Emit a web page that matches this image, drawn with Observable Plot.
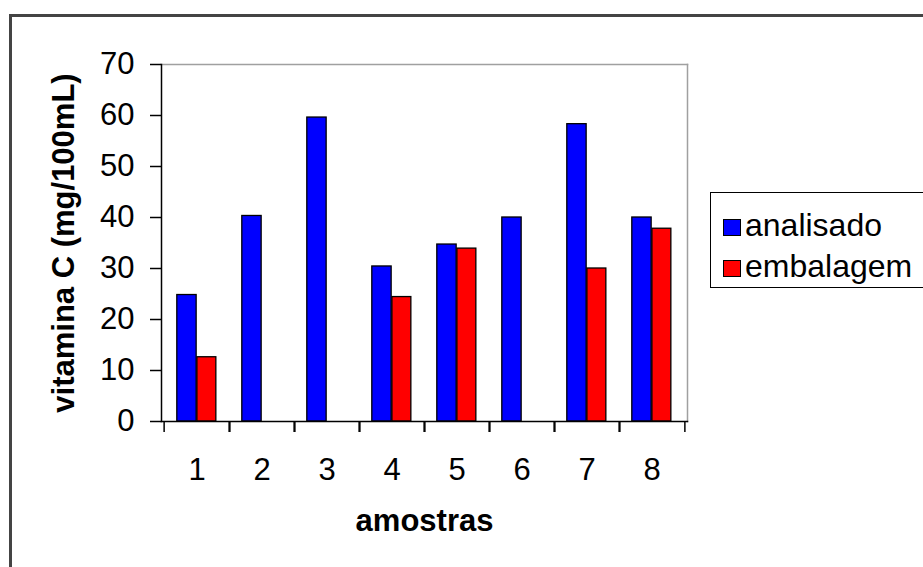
<!DOCTYPE html>
<html>
<head>
<meta charset="utf-8">
<script src="https://cdn.jsdelivr.net/npm/d3@7"></script>
<script src="https://cdn.jsdelivr.net/npm/@observablehq/plot@0.6"></script>
<style>
  html, body { margin: 0; padding: 0; background: #fff; }
  #wrap { position: relative; width: 923px; height: 567px; overflow: hidden; background: #fff;
          font-family: "Liberation Sans", Arial, sans-serif; }
  #outer { position: absolute; left: 9px; top: 14px; width: 1000px; height: 1000px;
           border: 3px solid #444; box-sizing: border-box; pointer-events: none; }
  #chart { position: absolute; left: 0; top: 0; }
  #legend { position: absolute; left: 710px; top: 192px; width: 260px; height: 96px;
            border: 1.5px solid #000; box-sizing: border-box; background: #fff; }
  .sw { position: absolute; left: 12px; width: 18px; height: 17px; border: 1px solid #000; box-sizing: border-box; }
  .lt { position: absolute; left: 34px; font-size: 32px; line-height: 32px; color: #000; white-space: nowrap; }
</style>
</head>
<body>
<div id="wrap">
  <div id="outer"></div>
  <div id="chart"></div>
  <div id="legend"></div>
</div>
<script>
// ---- data ----
const amostras = ["1", "2", "3", "4", "5", "6", "7", "8"];
const analisado = [24.8, 40.3, 59.6, 30.4, 34.7, 40.0, 58.3, 40.0];
const embalagem = [12.6, null, null, 24.4, 33.9, null, 30.0, 37.8];
const seriesNames = ["analisado", "embalagem"];
const seriesColors = ["#0000ff", "#ff0000"];
const yTicks = [0, 10, 20, 30, 40, 50, 60, 70];
const yLabel = "vitamina C (mg/100mL)";
const xLabel = "amostras";

const table = amostras.map((a, i) => ({amostra: a, analisado: analisado[i], embalagem: embalagem[i]}));

const W = 923, H = 567;
const band = (W - 161 - 236) / amostras.length;

const chart = Plot.plot({
  width: W,
  height: H,
  marginLeft: 161,
  marginRight: 236,
  marginTop: 64,
  marginBottom: 146,
  style: {fontFamily: "'Liberation Sans', Arial, sans-serif", fontSize: "31px", color: "#000", background: "transparent"},
  x: {domain: amostras, padding: 0, axis: null},
  y: {domain: [0, 70], axis: null},
  marks: [
    Plot.frame({anchor: "top", stroke: "#a0a0a0", strokeWidth: 1.5}),
    Plot.frame({anchor: "right", stroke: "#a0a0a0", strokeWidth: 1.5}),
    Plot.barY(table.filter(d => d.analisado != null), {
      x: "amostra", y: "analisado", fill: seriesColors[0], stroke: "#000", strokeWidth: 1.3,
      insetLeft: 12.8, insetRight: band - 32.9
    }),
    Plot.barY(table.filter(d => d.embalagem != null), {
      x: "amostra", y: "embalagem", fill: seriesColors[1], stroke: "#000", strokeWidth: 1.3,
      insetLeft: 32.9, insetRight: band - 52.6
    }),
    Plot.axisY({ticks: yTicks, tickSize: 11, tickPadding: 16, fontSize: 31, label: null, strokeWidth: 1.5}),
    Plot.axisX({tickSize: 0, tickPadding: 36, fontSize: 31, label: null}),
    Plot.axisX({tickSize: 11, tickFormat: () => "", label: null, dx: -band / 2, strokeWidth: 1.5}),
    Plot.axisX({tickSize: 11, tickFormat: () => "", label: null, dx: band / 2, strokeWidth: 1.5}),
    Plot.frame({anchor: "left", stroke: "#000", strokeWidth: 1.5}),
    Plot.frame({anchor: "bottom", stroke: "#000", strokeWidth: 1.5}),
    Plot.text([yLabel], {text: d => d, frameAnchor: "left", dx: -97, rotate: -90,
      textAnchor: "middle", lineAnchor: "middle", fontSize: 31, fontWeight: "bold"}),
    Plot.text([xLabel], {text: d => d, frameAnchor: "bottom", dy: 100,
      textAnchor: "middle", lineAnchor: "middle", fontSize: 31, fontWeight: "bold"})
  ]
});
document.getElementById("chart").appendChild(chart);

// legend
const legend = document.getElementById("legend");
const swTops = [26, 67];
const txtTops = [16, 57];
seriesNames.forEach((name, i) => {
  const sw = document.createElement("div");
  sw.className = "sw";
  sw.style.top = swTops[i] + "px";
  sw.style.background = seriesColors[i];
  legend.appendChild(sw);
  const t = document.createElement("div");
  t.className = "lt";
  t.style.top = txtTops[i] + "px";
  t.textContent = name;
  legend.appendChild(t);
});
</script>
</body>
</html>
